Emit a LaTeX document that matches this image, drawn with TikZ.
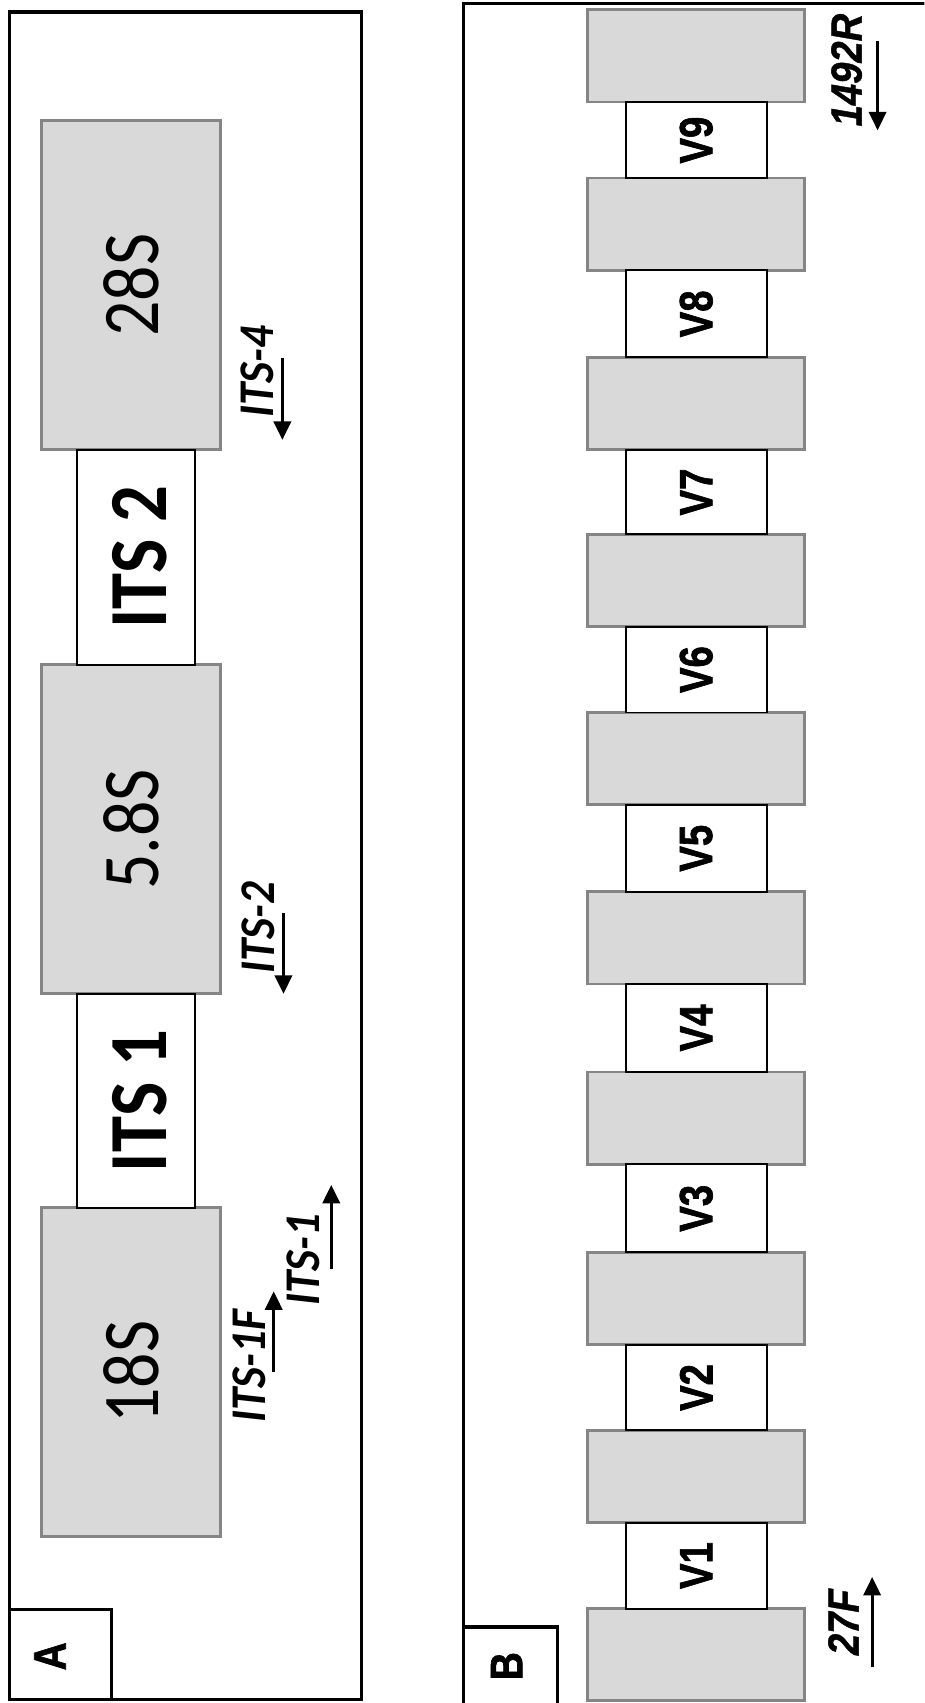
\documentclass[tikz,border=0pt]{standalone}
\usepackage{fontspec}
\setmainfont{Carlito}
\newfontfamily\arialfont[BoldFeatures={FakeBold=1.6},BoldItalicFeatures={FakeBold=1}]{Liberation Sans}
\usetikzlibrary{arrows.meta}
\definecolor{rfill}{HTML}{D9D9D9}
\definecolor{redge}{HTML}{858585}
\newcommand{\vtext}[2][0.87]{\rotatebox{90}{\scalebox{#1}[1]{#2}}}

\begin{document}
\begin{tikzpicture}[x=1pt,y=-1pt,>={Triangle[width=16pt,length=17pt]},
  panel/.style={draw,line width=3pt},
  rrna/.style={draw=redge,fill=rfill,line width=2.5pt,inner sep=0pt,outer sep=0pt,
    minimum width=165pt,minimum height=303pt,font=\fontsize{74}{74}\selectfont},
  segbox/.style={draw=redge,fill=rfill,line width=2.5pt,inner sep=0pt,outer sep=0pt,
    minimum width=200pt,minimum height=85pt},
  spacer/.style={draw,fill=white,line width=1.8pt},
  itsname/.style={inner sep=0pt,font=\bfseries\fontsize{76}{76}\selectfont},
  vname/.style={inner sep=0pt,font=\arialfont\bfseries\fontsize{43}{43}\selectfont},
  primerA/.style={inner sep=0pt,font=\bfseries\itshape\fontsize{46}{46}\selectfont},
  primerB/.style={inner sep=0pt,font=\arialfont\bfseries\itshape\fontsize{40}{40}\selectfont},
  tagname/.style={inner sep=0pt,font=\arialfont\bfseries\fontsize{42}{42}\selectfont},
  primerarrow/.style={->,line width=2.5pt}]
  \useasboundingbox (0,0) rectangle (851,1568);
  \clip (0,0) rectangle (851,1568);

  % panel A: ITS region
  \draw[panel] (9,11) rectangle (333,1565);
  \draw[panel] (9,1482) rectangle (103,1565);
  \node[tagname] (tagA) at (46,1525) {\vtext[0.85]{A}};
  \node[rrna] (s28) at (120.5,262.5) {\vtext{28S}};
  \node[rrna] (s58) at (120.5,763.5) {\vtext{5.8S}};
  \node[rrna] (s18) at (120.5,1263.5) {\vtext{18S}};
  \draw[spacer] ([xshift=-50pt]s28.south) rectangle ([xshift=59pt]s58.north);
  \draw[spacer] ([xshift=-50pt]s58.south) rectangle ([xshift=59pt]s18.north);
  \path (s28.south) -- (s58.north) node[midway,itsname,xshift=8pt] (its2) {\vtext[0.88]{ITS 2}};
  \path (s58.south) -- (s18.north) node[midway,itsname,xshift=8pt] (its1) {\vtext[0.88]{ITS 1}};

  % primers A
  \node[primerA] (l1f) at (229.5,1258) {\vtext[0.9]{ITS-1F}};
  \node[primerA] (l1) at (279,1160) {\vtext[0.9]{ITS-1}};
  \node[primerA] (l2) at (237.5,854) {\vtext[0.9]{ITS-2}};
  \node[primerA] (l4) at (236.5,342.5) {\vtext[0.9]{ITS-4}};
  \coordinate (a1f) at (252,1263); \coordinate (b1f) at (252,1189);
  \coordinate (a1) at (305,1168);  \coordinate (b1) at (305,1091);
  \coordinate (a2) at (261,841);   \coordinate (b2) at (261,915);
  \coordinate (a4) at (260,330);   \coordinate (b4) at (260,405);
  \draw[primerarrow] (a1f) -- (b1f);
  \draw[primerarrow] (a1) -- (b1);
  \draw[primerarrow] (a2) -- (b2);
  \draw[primerarrow] (a4) -- (b4);

  % panel B: 16S variable regions
  \draw[panel] (427,3) rectangle (880,1590);
  \draw[panel] (427,1498) rectangle (513,1590);
  \node[tagname] (tagB) at (466.5,1534) {\vtext[0.85]{B}};
  \foreach \t [count=\k] in {9,164,329,492,656,821,987,1153,1317,1481}
    \node[segbox] (c\k) at (641,\t+42.5) {};
  \foreach \a/\b/\v in {1/2/9,2/3/8,3/4/7,4/5/6,5/6/5,6/7/4,7/8/3,8/9/2,9/10/1} {
    \draw[spacer] ([xshift=-65pt]c\a.south) rectangle ([xshift=65pt]c\b.north);
    \path (c\a.south) -- (c\b.north) node[midway,vname] (v\v) {\vtext[0.82]{V\v}};
  }

  % primers B
  \node[primerB] (l27) at (776.5,1493.5) {\vtext[0.88]{27F}};
  \node[primerB] (l1492) at (779.5,64.5) {\vtext[0.88]{1492R}};
  \coordinate (a27) at (803,1535);  \coordinate (b27) at (803,1452);
  \coordinate (a1492) at (808,38);  \coordinate (b1492) at (808,120);
  \draw[primerarrow] (a27) -- (b27);
  \draw[primerarrow] (a1492) -- (b1492);
\end{tikzpicture}
\end{document}
